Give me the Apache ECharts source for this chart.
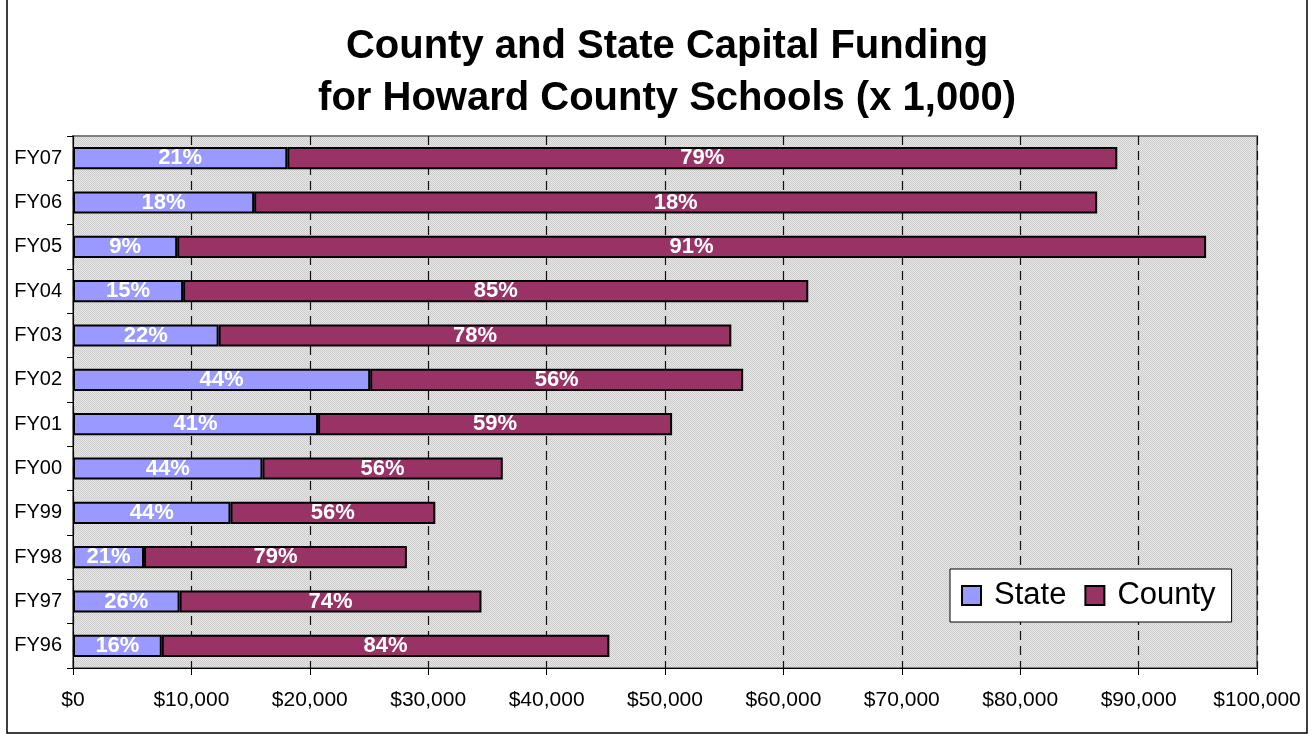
<!DOCTYPE html>
<html><head><meta charset="utf-8">
<script src="https://cdn.jsdelivr.net/npm/echarts@6/dist/echarts.min.js"></script>
<style>html,body{margin:0;padding:0;background:#fff}#c{width:1313px;height:734px}</style>
</head><body><div id="c"></div>
<script>
const categories = ['FY96','FY97','FY98','FY99','FY00','FY01','FY02','FY03','FY04','FY05','FY06','FY07'];
const stateValues = [7.5, 9.0, 6.0, 13.3, 16.0, 20.7, 25.1, 12.3, 9.3, 8.8, 15.3, 18.1];
const countyValues = [37.8, 25.5, 22.2, 17.3, 20.3, 29.9, 31.5, 43.3, 52.8, 86.9, 71.2, 70.1];
const stateLabels = ['16%','26%','21%','44%','44%','41%','44%','22%','15%','9%','18%','21%'];
const countyLabels = ['84%','74%','79%','56%','56%','59%','56%','78%','85%','91%','18%','79%'];

const font = '"Liberation Sans", Arial, sans-serif';
// fine dotted background like the original plot area fill
const pc = document.createElement('canvas');
pc.width = 2; pc.height = 2;
const pctx = pc.getContext('2d');
pctx.fillStyle = '#e6e6e6'; pctx.fillRect(0,0,2,2);
pctx.fillStyle = '#cdcdcd'; pctx.fillRect(0,0,1,1); pctx.fillRect(1,1,1,1);

const chart = echarts.init(document.getElementById('c'));
const lbl = (arr) => ({show:true, position:'inside', color:'#fff', fontWeight:'bold', fontSize:22, fontFamily:font,
  formatter: p => arr[p.dataIndex]});
chart.setOption({
  animation:false,
  title:{text:'County and State Capital Funding\nfor Howard County Schools (x 1,000)', left:662, top:16, textAlign:'center',
    textStyle:{fontFamily:font, fontWeight:'bold', fontSize:40, lineHeight:52, color:'#000'}},
  legend:{left:950, top:569, itemWidth:19, itemHeight:19, itemGap:18, padding:[11,16,11,11],
    backgroundColor:'#fff', borderColor:'#000', borderWidth:1,
    textStyle:{fontFamily:font, fontSize:31, lineHeight:30, color:'#000', padding:[0,0,0,8]},
    data:[{name:'State', icon:'rect'},{name:'County', icon:'rect'}]},
  grid:{left:73, right:56, top:136, bottom:66, show:true, backgroundColor:{image:pc, repeat:'repeat'}, borderColor:'#808080', borderWidth:2},
  xAxis:{type:'value', min:0, max:100000, interval:10000,
    axisLine:{show:true, lineStyle:{color:'#000'}},
    axisTick:{show:true, length:7, lineStyle:{color:'#000'}},
    axisLabel:{fontFamily:font, fontSize:21, color:'#000', margin:22,
      formatter: v => '$' + (v===0 ? '0' : v.toLocaleString('en-US'))},
    splitLine:{show:true, lineStyle:{color:'#111', type:[9,6], width:1.2}}},
  yAxis:{type:'category', data:categories,
    axisLine:{show:true, lineStyle:{color:'#000'}},
    axisTick:{show:true, length:6, lineStyle:{color:'#000'}},
    axisLabel:{fontFamily:font, fontSize:20, color:'#000', margin:11}},
  series:[
    {name:'State', type:'bar', stack:'t', barWidth:'50%', data:stateValues.map(v=>v*1000),
      itemStyle:{color:'#9999ff', borderColor:'#000', borderWidth:2}, label:lbl(stateLabels)},
    {name:'County', type:'bar', stack:'t', barWidth:'50%', data:countyValues.map(v=>v*1000),
      itemStyle:{color:'#993366', borderColor:'#000', borderWidth:2}, label:lbl(countyLabels)}
  ],
  graphic:[{type:'rect', shape:{x:7, y:-2, width:1300, height:735}, style:{fill:'none', stroke:'#000', lineWidth:1.5}, silent:true}]
});
</script></body></html>
